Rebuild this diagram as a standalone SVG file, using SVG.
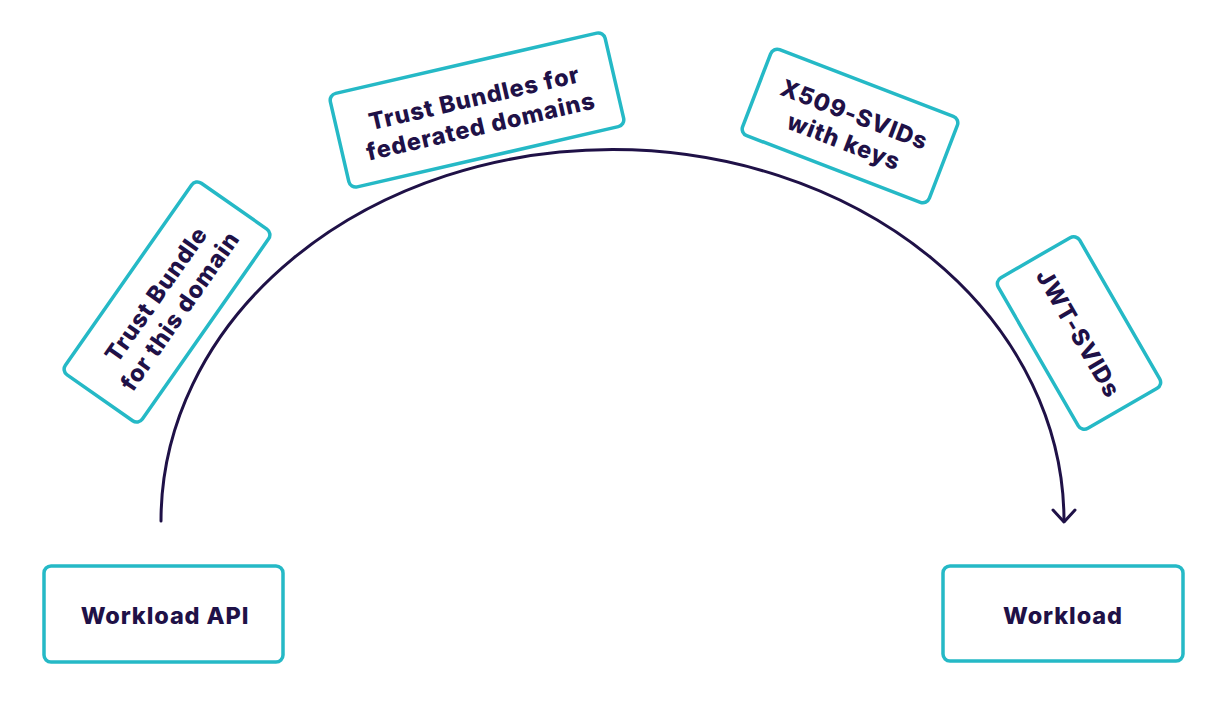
<svg xmlns="http://www.w3.org/2000/svg" width="1216" height="708" viewBox="0 0 1216 708">
<style>
.box{fill:#fff;stroke:#25b9c6;stroke-width:3.5}
.t{font-family:Inter,"Liberation Sans",sans-serif;font-weight:800;font-size:23.5px;fill:#1f1147;text-anchor:middle;letter-spacing:0.9px}
.c{fill:none;stroke:#1f1147;stroke-width:3;stroke-linecap:round;stroke-linejoin:round}
</style>
<rect width="1216" height="708" fill="#fff"/>
<g id="connectors">
<path class="c" d="M161,521 A451,371 0 0 1 1064,521"/>
<path class="c" d="M1053,510 L1064,522 L1075,510"/>
</g>
<g id="n-workload-api">
<rect class="box" x="44" y="566" width="239" height="96" rx="7"/>
<text class="t" x="165" y="624">Workload API</text>
</g>
<g id="n-workload">
<rect class="box" x="943" y="566" width="240" height="95" rx="7"/>
<text class="t" x="1063" y="624">Workload</text>
</g>
<g id="n-trust-bundle" transform="translate(167,302) rotate(-55)">
<rect class="box" x="-117" y="-47" width="234" height="94" rx="7"/>
<text class="t" x="0" y="-5">Trust Bundle</text>
<text class="t" x="0" y="24">for this domain</text>
</g>
<g id="n-trust-bundles-fed" transform="translate(477,110) rotate(-13)">
<rect class="box" x="-141" y="-48" width="282" height="96" rx="7"/>
<text class="t" x="0" y="-4">Trust Bundles for</text>
<text class="t" x="0" y="25">federated domains</text>
</g>
<g id="n-x509" transform="translate(850,126) rotate(21)">
<rect class="box" x="-100" y="-46" width="200" height="92" rx="7"/>
<text class="t" x="0" y="-4">X509-SVIDs</text>
<text class="t" x="0" y="25">with keys</text>
</g>
<g id="n-jwt" transform="translate(1079,333) rotate(60)">
<rect class="box" x="-87" y="-47" width="174" height="94" rx="7"/>
<text class="t" x="0" y="9">JWT-SVIDs</text>
</g>
</svg>
